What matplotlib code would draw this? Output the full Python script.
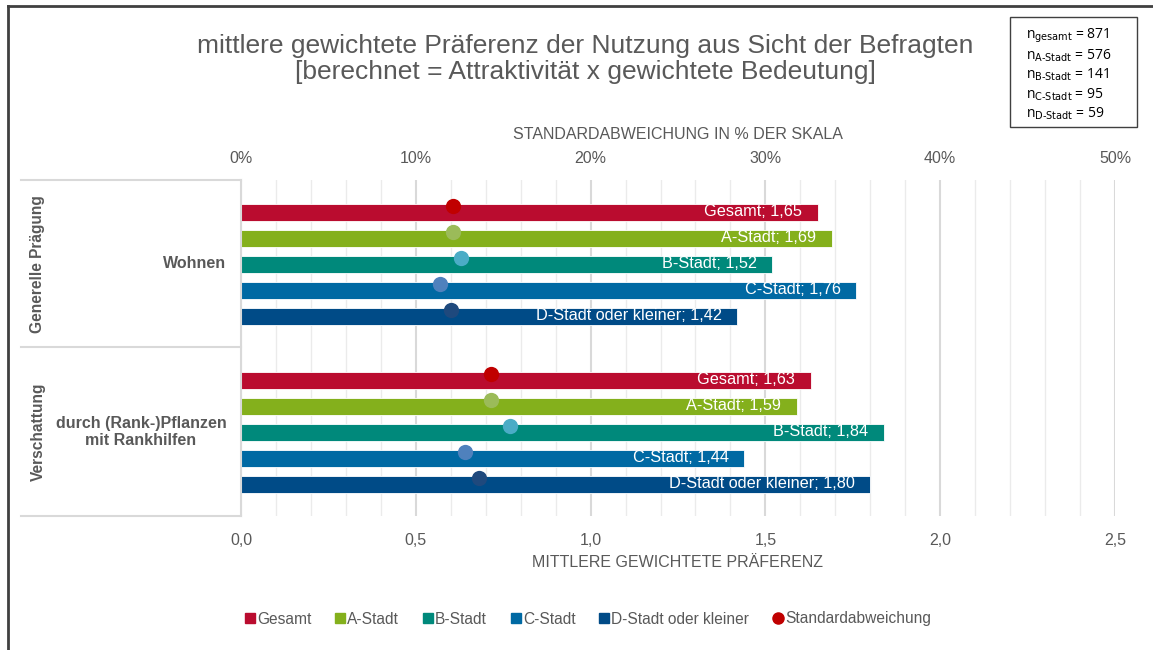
import matplotlib.pyplot as plt
from matplotlib.lines import Line2D
from matplotlib.patches import Rectangle

plt.rcParams['font.family'] = ['Liberation Sans', 'DejaVu Sans']

groups = ["Wohnen", "durch (Rank-)Pflanzen\nmit Rankhilfen"]
group_heads = ["Generelle Prägung", "Verschattung"]
series = ["Gesamt", "A-Stadt", "B-Stadt", "C-Stadt", "D-Stadt oder kleiner"]
values = [
    [1.65, 1.69, 1.52, 1.76, 1.42],
    [1.63, 1.59, 1.84, 1.44, 1.80],
]
std_pct = [
    [12.1, 12.1, 12.6, 11.4, 12.0],
    [14.3, 14.3, 15.4, 12.8, 13.6],
]
n_labels = ["gesamt", "A-Stadt", "B-Stadt", "C-Stadt", "D-Stadt"]
n_values = [871, 576, 141, 95, 59]

bar_colors = ["#BA0C2F", "#84B01C", "#00897B", "#0069A3", "#004B87"]
dot_colors = ["#C00000", "#9BBB59", "#4BACC6", "#4F81BD", "#1F497D"]
grey = "#595959"

fig = plt.figure(figsize=(11.53, 6.5), dpi=100)
W, H = 1153, 650
ax = fig.add_axes([241 / W, 1 - 516 / H, (1115 - 241) / W, (516 - 180) / H])

pitch = 26 / 168
bh = 17 / 168
for g in range(len(groups)):
    for k in range(len(series)):
        y = g + 0.5 + (k - 2) * pitch
        v = values[g][k]
        ax.barh(y, v, height=bh, color=bar_colors[k], edgecolor="white", linewidth=0.6, zorder=2)
        ax.text(v - 0.045, y, f"{series[k]}; {v:.2f}".replace(".", ","),
                color="white", ha="right", va="center", fontsize=11.7, zorder=3)

ax.set_xlim(0, 2.5)
ax.set_ylim(2, 0)
ax.set_yticks([])
ax.set_xticks([0, 0.5, 1.0, 1.5, 2.0, 2.5])
ax.set_xticklabels([f"{t:.1f}".replace(".", ",") for t in [0, 0.5, 1.0, 1.5, 2.0, 2.5]])
ax.tick_params(axis="x", length=0, pad=12, labelsize=11.5, labelcolor=grey)
ax.set_xlabel("MITTLERE GEWICHTETE PRÄFERENZ", fontsize=11.5, color=grey, labelpad=5)
for s in ["top", "right", "bottom"]:
    ax.spines[s].set_visible(False)
ax.spines["left"].set_color("#D9D9D9")
ax.spines["left"].set_linewidth(1.5)

ax2 = ax.twiny()
ax2.set_xlim(0, 50)
ax2.set_ylim(2, 0)
ax2.set_xticks(range(0, 51, 10))
ax2.set_xticklabels([f"{t}%" for t in range(0, 51, 10)])
ax2.set_xticks(range(0, 51, 2), minor=True)
ax2.tick_params(axis="x", which="both", length=0, pad=10, labelsize=11.5, labelcolor=grey)
ax2.set_xlabel("STANDARDABWEICHUNG IN % DER SKALA", fontsize=11.5, color=grey, labelpad=9)
for s in ["top", "right", "bottom", "left"]:
    ax2.spines[s].set_visible(False)
ax2.grid(axis="x", which="minor", color="#EBEBEB", linewidth=1.0, zorder=0)
ax2.grid(axis="x", which="major", color="#D9D9D9", linewidth=1.5, zorder=0)
ax2.set_axisbelow(True)
ax.set_zorder(ax2.get_zorder() + 1)
ax.patch.set_visible(False)

# dots drawn on the top axis, placed on the main axes
for g in range(len(groups)):
    for k in range(len(series)):
        y = g + 0.5 + (k - 2) * pitch - 6 / 168
        ax.plot(std_pct[g][k] / 50 * 2.5, y, "o", ms=11, color=dot_colors[k],
                markeredgewidth=0, zorder=4)

# left category area
for yp in [180, 347, 516]:
    fig.add_artist(Line2D([21 / W, 241 / W], [1 - yp / H] * 2, color="#D9D9D9", lw=1.5))
for g, (lab, head) in enumerate(zip(groups, group_heads)):
    yc = 1 - (180 + 168 * (g + 0.5)) / H
    fig.text(38 / W, yc, head, rotation=90, ha="center", va="center",
             fontsize=11.2, fontweight="bold", color=grey)
    if g == 0:
        fig.text(226 / W, yc, lab, ha="right", va="center", fontsize=11.5,
                 fontweight="bold", color=grey)
    else:
        fig.text(141 / W, yc, lab, ha="center", va="center", fontsize=11.5,
                 fontweight="bold", color=grey, linespacing=1.2)

# title
fig.text(585 / W, 1 - 59 / H, "mittlere gewichtete Präferenz der Nutzung aus Sicht der Befragten\n"
         "[berechnet = Attraktivität x gewichtete Bedeutung]",
         ha="center", va="center", fontsize=19, color=grey, linespacing=1.15)

# n box
fig.add_artist(Rectangle((1010 / W, 1 - 127 / H), 127 / W, 110 / H, fill=False,
                         edgecolor="#404040", lw=1, transform=fig.transFigure))
for i, (nl, nv) in enumerate(zip(n_labels, n_values)):
    fig.text(1026 / W, 1 - (36 + 19.5 * i) / H, "n$_\\text{" + nl + "}$ = " + str(nv),
             ha="left", va="center", fontsize=10, color="black", family="Open Sans")

# figure frame
fig.add_artist(Line2D([7.5 / W, 1], [1 - 5.5 / H] * 2, color="#404040", lw=2))
fig.add_artist(Line2D([7.5 / W] * 2, [0, 1 - 5.5 / H], color="#404040", lw=2))

# legend
handles = [Line2D([], [], marker="s", ls="", ms=7, color=c) for c in bar_colors]
handles.append(Line2D([], [], marker="o", ls="", ms=8, color="#C00000"))
fig.legend(handles, series + ["Standardabweichung"], loc="center", ncol=6,
           bbox_to_anchor=(587 / W, 1 - 619 / H), frameon=False, fontsize=11.2,
           labelcolor=grey, handletextpad=0.0, columnspacing=1.4, handlelength=0.9)

fig.savefig("out.png", dpi=100)
